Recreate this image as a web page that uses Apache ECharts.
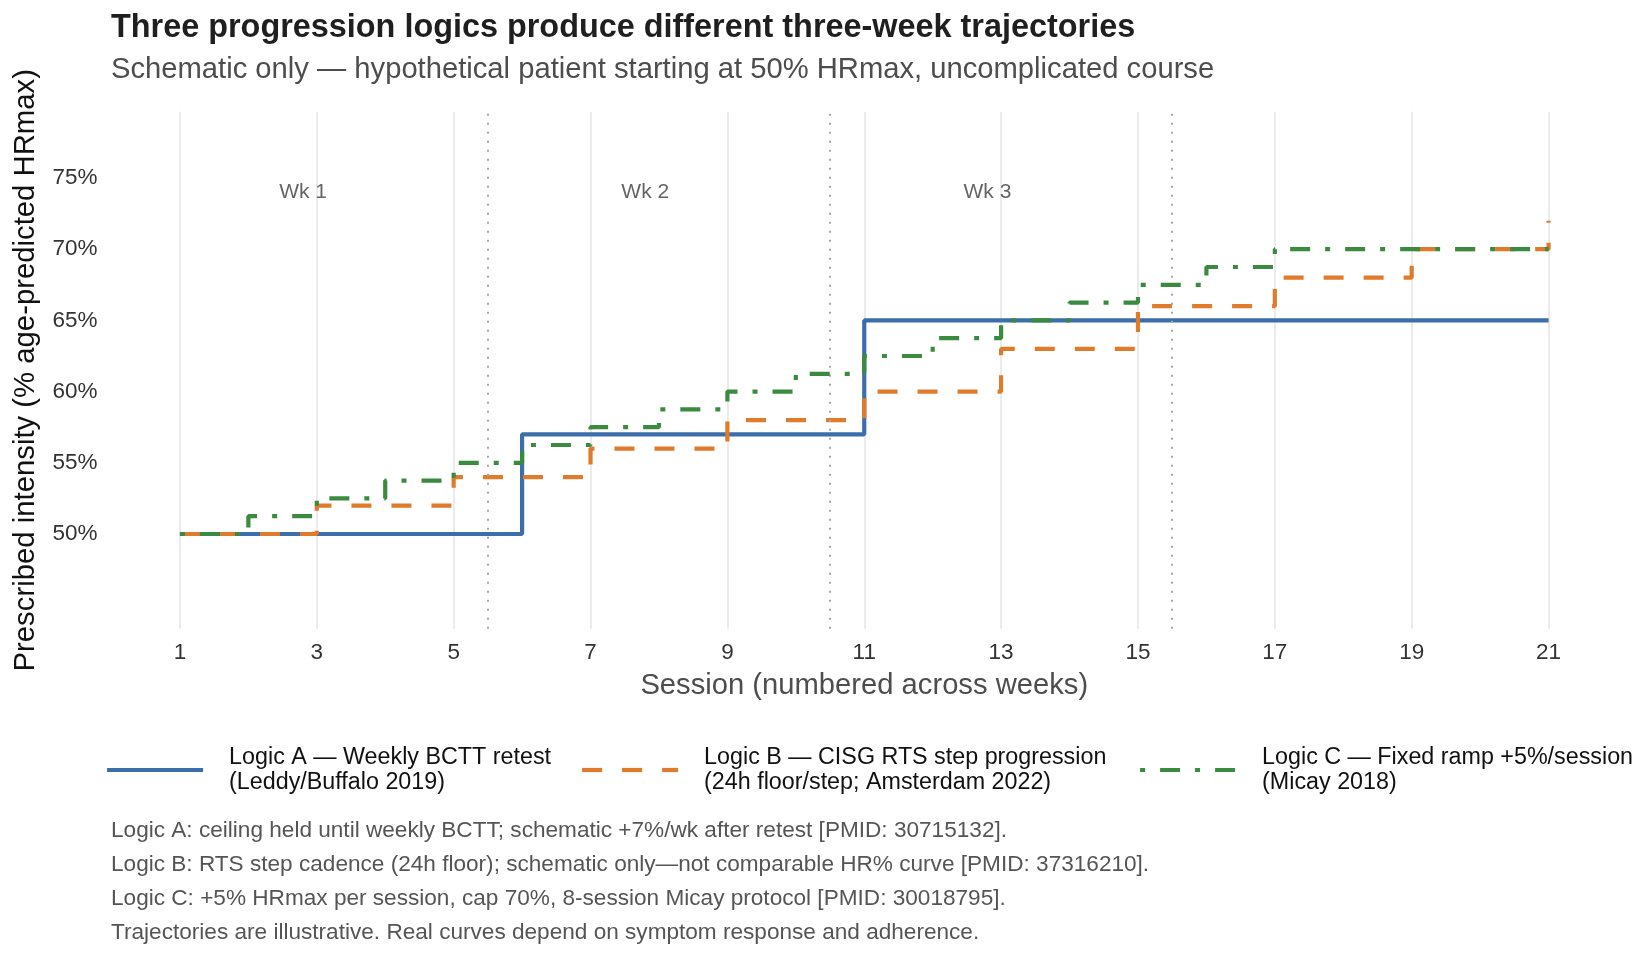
<!DOCTYPE html>
<html>
<head>
<meta charset="utf-8">
<title>Three progression logics</title>
<script src="https://cdn.jsdelivr.net/npm/echarts/dist/echarts.min.js"></script>
<style>
  html, body { margin: 0; padding: 0; background: #fff; }
  #chart { width: 1632px; height: 960px; }
</style>
</head>
<body>
<div id="chart"></div>
<script>
// data
const sessions = [1, 2, 3, 4, 5, 6, 7, 8, 9, 10, 11, 12, 13, 14, 15, 16, 17, 18, 19, 20, 21];
const logicA = [50, 50, 50, 50, 50, 57, 57, 57, 57, 57, 65, 65, 65, 65, 65, 65, 65, 65, 65, 65, 65];
const logicB = [50, 50, 52, 52, 54, 54, 56, 56, 58, 58, 60, 60, 63, 63, 66, 66, 68, 68, 70, 70, 72];
const logicC = [50, 51.25, 52.5, 53.75, 55, 56.25, 57.5, 58.75, 60, 61.25, 62.5, 63.75, 65, 66.25, 67.5, 68.75, 70, 70, 70, 70, 70];

const seriesNames = [
  "Logic A \u2014 Weekly BCTT retest\n(Leddy/Buffalo 2019)",
  "Logic B \u2014 CISG RTS step progression\n(24h floor/step; Amsterdam 2022)",
  "Logic C \u2014 Fixed ramp +5%/session\n(Micay 2018)"
];
const seriesColors = ["#3c6ea9", "#e07b2c", "#3a8a3f"];

const weekBreaks = [5.5, 10.5, 15.5];
const weekLabels = ["Wk 1", "Wk 2", "Wk 3"];
const weekLabelX = [2.8, 7.8, 12.8];
const weekLabelY = 74;

const xTicks = [1, 3, 5, 7, 9, 11, 13, 15, 17, 19, 21];
const yTicks = [50, 55, 60, 65, 70, 75];

const titleText = "Three progression logics produce different three-week trajectories";
const subtitleText = "Schematic only \u2014 hypothetical patient starting at 50% HRmax, uncomplicated course";
const footnotes = [
  "Logic A: ceiling held until weekly BCTT; schematic +7%/wk after retest [PMID: 30715132].",
  "Logic B: RTS step cadence (24h floor); schematic only\u2014not comparable HR% curve [PMID: 37316210].",
  "Logic C: +5% HRmax per session, cap 70%, 8-session Micay protocol [PMID: 30018795].",
  "Trajectories are illustrative. Real curves depend on symptom response and adherence."
];

const FONT = "'Liberation Sans', Arial, sans-serif";

const chart = echarts.init(document.getElementById("chart"), null, {renderer: "canvas"});

const toPairs = (vals) => sessions.map((s, i) => [s, vals[i]]);

const lineTypes = [
  "solid",
  [20, 20],
  [5, 15, 20, 15]
];

const lineSeries = [logicA, logicB, logicC].map((vals, i) => ({
  name: seriesNames[i],
  type: "line",
  step: "end",
  data: toPairs(vals),
  symbol: "none",
  showSymbol: false,
  lineStyle: {color: seriesColors[i], width: 4.2, type: lineTypes[i], cap: "butt"},
  itemStyle: {color: seriesColors[i]},
  z: 3 + i
}));

// week separators + labels
const helperSeries = {
  type: "scatter",
  data: weekLabelX.map((x, i) => ({value: [x, weekLabelY], name: weekLabels[i]})),
  symbolSize: 0,
  silent: true,
  label: {
    show: true,
    position: "inside",
    formatter: (p) => p.name,
    fontFamily: FONT,
    fontSize: 21,
    color: "#3d3d3d"
  },
  markLine: {
    silent: true,
    symbol: "none",
    label: {show: false},
    lineStyle: {color: "#a6a6a6", type: [2, 7], width: 2},
    data: weekBreaks.map((x) => ({xAxis: x}))
  },
  z: 2
};

const legendLefts = [105, 580, 1138];

const option = {
  animation: false,
  backgroundColor: "#ffffff",
  title: [
    {
      text: titleText,
      left: 111,
      top: 12,
      padding: 0,
      textStyle: {fontFamily: FONT, fontSize: 32.4, fontWeight: "bold", color: "#1f1f1f"}
    },
    {
      text: subtitleText,
      left: 111,
      top: 55,
      padding: 0,
      textStyle: {fontFamily: FONT, fontSize: 29.2, fontWeight: "normal", color: "#4d4d4d"}
    },
    {
      text: footnotes.join("\n"),
      left: 111,
      top: 814,
      padding: 0,
      textStyle: {fontFamily: FONT, fontSize: 22.6, fontWeight: "normal", color: "#555555", lineHeight: 34}
    }
  ],
  legend: seriesNames.map((name, i) => ({
    data: [name],
    left: legendLefts[i],
    top: 745,
    padding: 0,
    itemWidth: 96,
    itemHeight: 14,
    selectedMode: false,
    itemStyle: {opacity: 0},
    lineStyle: {width: 4.2, type: lineTypes[i], color: seriesColors[i], cap: "butt"},
    textStyle: {
      fontFamily: FONT,
      fontSize: 23.3,
      lineHeight: 25,
      color: "#111111",
      padding: [0, 0, 0, 21]
    }
  })),
  grid: {left: 111.5, right: 15, top: 111.8, bottom: 331.3, containLabel: false},
  xAxis: {
    type: "value",
    min: 0,
    max: 22,
    name: "Session (numbered across weeks)",
    nameLocation: "middle",
    nameGap: 43,
    nameTextStyle: {fontFamily: FONT, fontSize: 29.2, color: "#4d4d4d"},
    axisLine: {show: false},
    axisTick: {show: false, customValues: xTicks},
    axisLabel: {
      customValues: xTicks,
      margin: 13,
      fontFamily: FONT,
      fontSize: 22.5,
      color: "#333333"
    },
    splitLine: {show: true, lineStyle: {color: "#e6e6e6", width: 1.6}}
  },
  yAxis: {
    type: "value",
    min: 43.35,
    max: 79.65,
    name: "Prescribed intensity (% age-predicted HRmax)",
    nameLocation: "middle",
    nameGap: 71,
    nameTextStyle: {fontFamily: FONT, fontSize: 29.3, color: "#111111"},
    axisLine: {show: false},
    axisTick: {show: false, customValues: yTicks},
    axisLabel: {
      customValues: yTicks,
      margin: 14,
      padding: [4, 0, 0, 0],
      fontFamily: FONT,
      fontSize: 22.5,
      color: "#333333",
      formatter: (v) => v + "%"
    },
    splitLine: {show: false}
  },
  series: [helperSeries].concat(lineSeries)
};

chart.setOption(option);
</script>
</body>
</html>
